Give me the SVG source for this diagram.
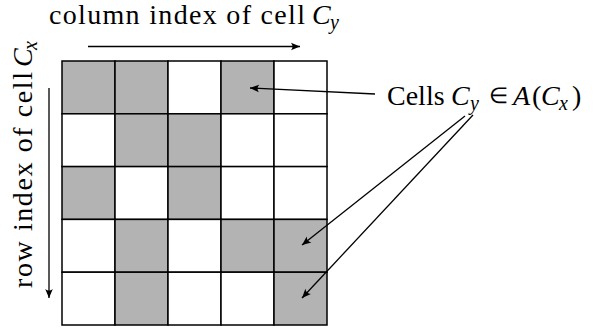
<svg xmlns="http://www.w3.org/2000/svg" width="594" height="329" viewBox="0 0 594 329">
<style>
.g{fill:#b3b3b3;stroke:#000;stroke-width:1.5}
.w{fill:#fff;stroke:#000;stroke-width:1.5}
.t{font-size:28px}
.i{font-style:italic}
.s{font-size:20px;font-style:italic}
.e{font-size:22px}
.a{stroke:#000;stroke-width:1.3;fill:none;marker-end:url(#ah)}
</style>
<defs>
<marker id="ah" markerUnits="userSpaceOnUse" orient="auto" refX="0" refY="0" markerWidth="12" markerHeight="10" viewBox="-10 -5 12 10" overflow="visible">
<path d="M0,0 L-9,-3.8 Q-6,0 -9,3.8 Z" fill="#000"/>
</marker>
</defs>
<rect width="594" height="329" fill="#fff"/>
<g id="grid">
<rect class="g" x="62" y="61" width="53" height="52.8"/>
<rect class="g" x="115" y="61" width="53" height="52.8"/>
<rect class="w" x="168" y="61" width="53" height="52.8"/>
<rect class="g" x="221" y="61" width="53" height="52.8"/>
<rect class="w" x="274" y="61" width="53" height="52.8"/>
<rect class="w" x="62" y="113.8" width="53" height="52.8"/>
<rect class="g" x="115" y="113.8" width="53" height="52.8"/>
<rect class="g" x="168" y="113.8" width="53" height="52.8"/>
<rect class="w" x="221" y="113.8" width="53" height="52.8"/>
<rect class="w" x="274" y="113.8" width="53" height="52.8"/>
<rect class="g" x="62" y="166.6" width="53" height="52.8"/>
<rect class="w" x="115" y="166.6" width="53" height="52.8"/>
<rect class="g" x="168" y="166.6" width="53" height="52.8"/>
<rect class="w" x="221" y="166.6" width="53" height="52.8"/>
<rect class="w" x="274" y="166.6" width="53" height="52.8"/>
<rect class="w" x="62" y="219.4" width="53" height="52.8"/>
<rect class="g" x="115" y="219.4" width="53" height="52.8"/>
<rect class="w" x="168" y="219.4" width="53" height="52.8"/>
<rect class="g" x="221" y="219.4" width="53" height="52.8"/>
<rect class="g" x="274" y="219.4" width="53" height="52.8"/>
<rect class="w" x="62" y="272.2" width="53" height="52.8"/>
<rect class="g" x="115" y="272.2" width="53" height="52.8"/>
<rect class="w" x="168" y="272.2" width="53" height="52.8"/>
<rect class="w" x="221" y="272.2" width="53" height="52.8"/>
<rect class="g" x="274" y="272.2" width="53" height="52.8"/>
</g>
<g font-family="Liberation Serif, serif" fill="#000">
<g id="col-label">
<text class="t" x="49" y="24" textLength="256" lengthAdjust="spacing">column index of cell</text>
<text class="t i" x="312" y="24">C</text>
<text class="s" x="330" y="29">y</text>
</g>
<g id="row-label" transform="translate(32,288) rotate(-90)">
<text class="t" x="0" y="0" textLength="216" lengthAdjust="spacing">row index of cell</text>
<text class="t i" x="221" y="0">C</text>
<text class="s" x="238" y="5">x</text>
</g>
<g id="cells-label">
<text class="t" x="387" y="105">Cells</text>
<text class="t i" x="451" y="105">C</text>
<text class="s" x="470" y="110">y</text>
<text class="e" x="489" y="103">∈</text>
<text class="t i" x="513" y="105">A</text>
<text class="t" x="532" y="105">(</text>
<text class="t i" x="541" y="105">C</text>
<text class="s" x="559" y="110">x</text>
<text class="t" x="572" y="105">)</text>
</g>
</g>
<g id="connectors">
<line class="a" x1="88" y1="46.5" x2="300" y2="46.5"/>
<line class="a" x1="49" y1="88" x2="49" y2="298"/>
<line class="a" x1="375" y1="94" x2="250" y2="88"/>
<line class="a" x1="465" y1="116" x2="302" y2="245"/>
<line class="a" x1="473" y1="115" x2="302" y2="298"/>
</g>
</svg>
